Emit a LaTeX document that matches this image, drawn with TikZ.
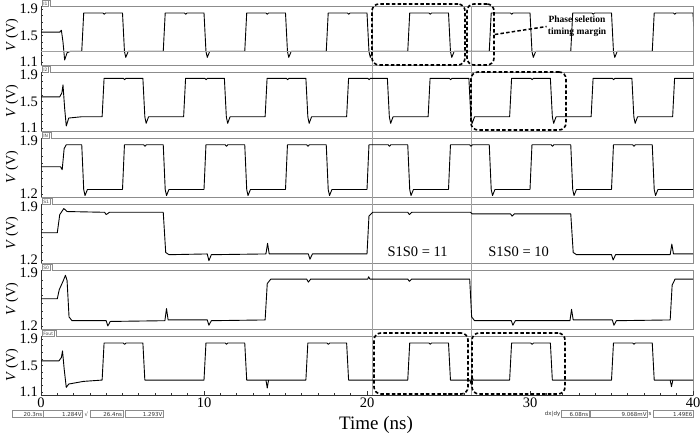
\documentclass[tikz,border=0pt]{standalone}
\usepackage{fontspec}
\setmainfont{Liberation Serif}
\setsansfont{DejaVu Sans}
\usetikzlibrary{positioning,calc}
\definecolor{framegray}{HTML}{8C8C8C}
\definecolor{cursorgray}{HTML}{A0A0A0}

\tikzset{
  wave/.style={black, line width=0.9pt, line join=round},
  frame/.style={framegray, line width=0.7pt},
  cursor/.style={cursorgray, line width=0.7pt},
  axis/.style={black!80, line width=0.7pt},
  tab/.style={draw=framegray, fill=white, line width=0.5pt, inner xsep=1pt, inner ysep=0pt,
    minimum height=6pt, font=\sffamily\fontsize{4.5}{5}\selectfont, text=black!70},
  ticklabel/.style={font=\fontsize{14.5}{14.5}\selectfont, inner sep=1pt},
  ylabel/.style={font=\fontsize{14}{14}\selectfont, rotate=90},
  dashbox/.style={draw=black, line width=1.6pt, dash pattern=on 3.5pt off 2.2pt,
    rounded corners=7pt, inner sep=0pt},
  dashline/.style={black, line width=1.5pt, dash pattern=on 3.5pt off 2.2pt},
  note/.style={font=\bfseries\fontsize{9.5}{11.5}\selectfont, align=center, inner sep=1pt},
  modelabel/.style={font=\fontsize{14.5}{14.5}\selectfont, inner sep=1pt},
  field/.style={draw=framegray, line width=0.4pt, inner sep=1pt, minimum height=7pt,
    align=right, font=\sffamily\fontsize{5.5}{6}\selectfont, text=black!80},
  statustext/.style={inner sep=0.5pt, font=\sffamily\fontsize{5.5}{6}\selectfont, text=black!80},
}

\begin{document}
\begin{tikzpicture}[x=1pt,y=1pt]
  \useasboundingbox (0,0) rectangle (700,435);

  % panel frames, tabs and axis titles
  \foreach \k/\sig in {0/I1,1/I2,2/IN,3/S1,4/S0,5/Fout} {
    \pgfmathsetmacro{\ptop}{429-66*\k}
    \pgfmathsetmacro{\pbot}{370-66*\k}
    \node[tab, anchor=south west] (tab\k) at (42,\ptop-1) {\sig};
    \draw[frame] (tab\k.north east) -- ++(2,0) |- (693,\ptop) -- (693,\pbot) -- (41,\pbot);
    \draw[axis] (41,\pbot) -- (41,\ptop);
    \node[ylabel] (vaxis\k) at (12,{(\ptop+\pbot)/2}) {\textit{V} (V)};
  }

  % time axis
  \draw[axis] (41,40) -- (693,40);
  \foreach \t in {0,...,40}
    \draw[axis] ({41+16.3*\t},40) -- ++(0,2);
  \foreach \t in {0,10,20,30,40} {
    \draw[axis] ({41+16.3*\t},40) -- ++(0,4);
    \node[ticklabel, anchor=north] (xt\t) at ({41+16.3*\t},38) {\t};
  }
  \node[font=\fontsize{19}{19}\selectfont] (timelabel) at (376,10) {Time (ns)};

  % cursors
  \draw[cursor] (372,40) -- (372,429);
  \draw[cursor] (471,40) -- (471,429);

  % I1
  \begin{scope}[shift={(41pt,300.125pt)}, x=16.3pt, y=66.25pt]
    \node[ticklabel, anchor=east] (i1hi) at ([xshift=-2pt]0,1.9) {1.9};
    \node[ticklabel, anchor=east] (i1mid) at ([xshift=-2pt]0,1.5) {1.5};
    \node[ticklabel, anchor=east] (i1lo) at ([xshift=-2pt]0,1.1) {1.1};
    \foreach \v in {1.1,1.2,...,1.9} \draw[axis] (0,\v) -- ++(2pt,0);
    \begin{scope}
      \clip (0,1.055) rectangle (40,1.945);
      \draw[wave] (0,1.55) -- (1.15,1.55) -- (1.25,1.58) -- (1.35,1.40) -- (1.45,1.13) -- (1.6,1.24) -- (1.8,1.26)
        \foreach \r in {2.5,7.5,...,37.5} { -- (\r,1.26) -- (\r+0.12,1.84) -- (\r+1.3,1.84) -- (\r+1.38,1.82)
          -- (\r+1.46,1.84) -- (\r+2.5,1.84) -- (\r+2.62,1.26) -- (\r+2.7,1.17) -- (\r+2.85,1.26) };
    \end{scope}
    \draw[cursor] (0,1.26) -- (40,1.26);
  \end{scope}

  % I2
  \begin{scope}[shift={(41pt,234.125pt)}, x=16.3pt, y=66.25pt]
    \node[ticklabel, anchor=east] (i2hi) at ([xshift=-2pt]0,1.9) {1.9};
    \node[ticklabel, anchor=east] (i2mid) at ([xshift=-2pt]0,1.5) {1.5};
    \node[ticklabel, anchor=east] (i2lo) at ([xshift=-2pt]0,1.1) {1.1};
    \foreach \v in {1.1,1.2,...,1.9} \draw[axis] (0,\v) -- ++(2pt,0);
    \begin{scope}
      \clip (0,1.055) rectangle (40,1.945);
      \draw[wave] (0,1.57) -- (1.15,1.57) -- (1.28,1.63) -- (1.35,1.75) -- (1.45,1.40) -- (1.55,1.13) -- (1.7,1.25) -- (2.5,1.27)
        \foreach \r in {3.75,8.75,...,38.75} { -- (\r,1.27) -- (\r+0.12,1.85) -- (\r+1.3,1.85) -- (\r+1.38,1.83)
          -- (\r+1.46,1.85) -- (\r+2.5,1.85) -- (\r+2.62,1.27) -- (\r+2.7,1.17) -- (\r+2.85,1.27) };
    \end{scope}
  \end{scope}

  % IN
  \begin{scope}[shift={(41pt,150.143pt)}, x=16.3pt, y=75.714pt]
    \node[ticklabel, anchor=east] (inhi) at ([xshift=-2pt]0,1.9) {1.9};
    \node[ticklabel, anchor=east] (inlo) at ([xshift=-2pt]0,1.2) {1.2};
    \foreach \v in {1.2,1.3,...,1.9} \draw[axis] (0,\v) -- ++(2pt,0);
    \begin{scope}
      \clip (0,1.16) rectangle (40,1.94);
      \draw[wave] (0,1.56) -- (1.2,1.56) -- (1.3,1.52) -- (1.42,1.80) -- (1.55,1.85) -- (2.5,1.85) -- (2.62,1.26)
        -- (2.7,1.18) -- (2.85,1.26)
        \foreach \r in {5,10,...,35} { -- (\r,1.26) -- (\r+0.12,1.85) -- (\r+1.3,1.85) -- (\r+1.38,1.83)
          -- (\r+1.46,1.85) -- (\r+2.5,1.85) -- (\r+2.62,1.26) -- (\r+2.7,1.18) -- (\r+2.85,1.26) } -- (40,1.26);
    \end{scope}
  \end{scope}

  % S1
  \begin{scope}[shift={(41pt,84.143pt)}, x=16.3pt, y=75.714pt]
    \node[ticklabel, anchor=east] (s1hi) at ([xshift=-2pt]0,1.9) {1.9};
    \node[ticklabel, anchor=east] (s1lo) at ([xshift=-2pt]0,1.2) {1.2};
    \foreach \v in {1.2,1.3,...,1.9} \draw[axis] (0,\v) -- ++(2pt,0);
    \begin{scope}
      \clip (0,1.16) rectangle (40,1.94);
      \draw[wave] (0,1.56) -- (1.0,1.56) -- (1.15,1.80) -- (1.4,1.88) -- (1.6,1.84) -- (3.9,1.83) -- (4.0,1.80)
        -- (4.2,1.83) -- (7.5,1.83) -- (7.65,1.30) -- (7.85,1.27) -- (10.2,1.28) -- (10.3,1.19) -- (10.45,1.27)
        -- (13.8,1.28) -- (13.9,1.42) -- (14.0,1.28) -- (16.4,1.28) -- (16.5,1.21) -- (16.65,1.28) -- (20.0,1.28)
        -- (20.12,1.78) -- (20.35,1.83) -- (22.5,1.83) -- (22.6,1.80) -- (22.75,1.83) -- (26.35,1.83)
        -- (26.45,1.81) -- (28.8,1.81) -- (28.9,1.78) -- (29.05,1.81) -- (32.5,1.81) -- (32.65,1.30)
        -- (32.85,1.27) -- (35.0,1.27) -- (35.1,1.20) -- (35.25,1.27) -- (38.6,1.27) -- (38.7,1.41)
        -- (38.8,1.28) -- (40,1.28);
    \end{scope}
    \node[modelabel] (mode11) at (23.1,1.31) {S1S0 = 11};
    \node[modelabel] (mode10) at (29.3,1.31) {S1S0 = 10};
  \end{scope}

  % S0
  \begin{scope}[shift={(41pt,18.143pt)}, x=16.3pt, y=75.714pt]
    \node[ticklabel, anchor=east] (s0hi) at ([xshift=-2pt]0,1.9) {1.9};
    \node[ticklabel, anchor=east] (s0lo) at ([xshift=-2pt]0,1.2) {1.2};
    \foreach \v in {1.2,1.3,...,1.9} \draw[axis] (0,\v) -- ++(2pt,0);
    \begin{scope}
      \clip (0,1.16) rectangle (40,1.94);
      \draw[wave] (0,1.56) -- (1.0,1.56) -- (1.12,1.68) -- (1.35,1.79) -- (1.5,1.87) -- (1.6,1.80) -- (1.72,1.32)
        -- (1.9,1.27) -- (4.0,1.27) -- (4.1,1.20) -- (4.25,1.26) -- (7.6,1.27) -- (7.7,1.43) -- (7.8,1.28)
        -- (10.2,1.28) -- (10.3,1.21) -- (10.45,1.27) -- (13.75,1.28) -- (13.88,1.76) -- (14.1,1.82)
        -- (16.3,1.82) -- (16.4,1.78) -- (16.55,1.82) -- (20.05,1.82) -- (20.1,1.85) -- (20.18,1.82)
        -- (22.5,1.82) -- (22.6,1.79) -- (22.75,1.82) -- (26.3,1.82) -- (26.42,1.32) -- (26.6,1.27)
        -- (28.85,1.27) -- (28.95,1.21) -- (29.1,1.27) -- (32.45,1.27) -- (32.55,1.42) -- (32.65,1.28)
        -- (35.05,1.28) -- (35.15,1.21) -- (35.3,1.27) -- (38.6,1.28) -- (38.72,1.74) -- (38.9,1.82) -- (40,1.82);
    \end{scope}
  \end{scope}

  % Fout
  \begin{scope}[shift={(41pt,-29.875pt)}, x=16.3pt, y=66.25pt]
    \node[ticklabel, anchor=east] (fouthi) at ([xshift=-2pt]0,1.9) {1.9};
    \node[ticklabel, anchor=east] (foutmid) at ([xshift=-2pt]0,1.5) {1.5};
    \node[ticklabel, anchor=east] (foutlo) at ([xshift=-2pt]0,1.1) {1.1};
    \foreach \v in {1.1,1.2,...,1.9} \draw[axis] (0,\v) -- ++(2pt,0);
    \begin{scope}
      \clip (0,1.055) rectangle (40,1.945);
      \draw[wave] (0,1.57) -- (1.1,1.57) -- (1.25,1.62) -- (1.32,1.72) -- (1.42,1.45) -- (1.55,1.17) -- (1.7,1.22)
        -- (2.6,1.26) -- (3.75,1.28)
        \foreach \r in {3.75,10,16.25,22.5,28.75,35} { -- (\r,1.28) -- (\r+0.12,1.84) -- (\r+1.3,1.84)
          -- (\r+1.38,1.82) -- (\r+1.46,1.84) -- (\r+2.5,1.84) -- (\r+2.62,1.28) } -- (40,1.28);
      \draw[wave] (13.8,1.28) -- (13.88,1.16) -- (13.96,1.28);
      \draw[wave] (26.3,1.28) -- (26.38,1.22) -- (26.45,1.33) -- (26.52,1.28);
      \draw[wave] (38.6,1.28) -- (38.68,1.18) -- (38.76,1.28);
    \end{scope}
  \end{scope}

  % selection windows
  \node[dashbox, minimum width=93pt, minimum height=61pt] (i1box) at (418.5,400.5) {};
  \node[dashbox, minimum width=27pt, minimum height=61pt] (marginbox) at (480.5,400.5) {};
  \node[dashbox, minimum width=95pt, minimum height=58pt] (i2box) at (518.5,334) {};
  \node[dashbox, minimum width=94pt, minimum height=61pt] (foutboxa) at (421,71.5) {};
  \node[dashbox, minimum width=93pt, minimum height=61pt] (foutboxb) at (518.5,71.5) {};
  \node[note] (note) at (577,408.5) {Phase seletion\\timing margin};
  \draw[dashline] (marginbox.east) -- (note.west);

  % status bar
  \node[field, text width=29pt, anchor=west] (cur1t) at (12,21) {20.3ns};
  \node[field, text width=37pt, right=0pt of cur1t] (cur1v) {1.284V};
  \node[statustext, right=1pt of cur1v] (curmark) {√};
  \node[field, text width=31pt, right=1pt of curmark] (cur2t) {26.4ns};
  \node[field, text width=36pt, right=2pt of cur2t] (cur2v) {1.293V};
  \node[statustext, anchor=east] (dxdy) at (561,21) {dx|dy};
  \node[field, text width=26pt, right=0pt of dxdy] (dxval) {6.08ns};
  \node[field, text width=55pt, right=1pt of dxval] (dyval) {9.068mV};
  \node[statustext, right=0pt of dyval] (slope) {s};
  \node[field, text width=38pt, right=1pt of slope] (slopeval) {1.49E6};
\end{tikzpicture}
\end{document}
